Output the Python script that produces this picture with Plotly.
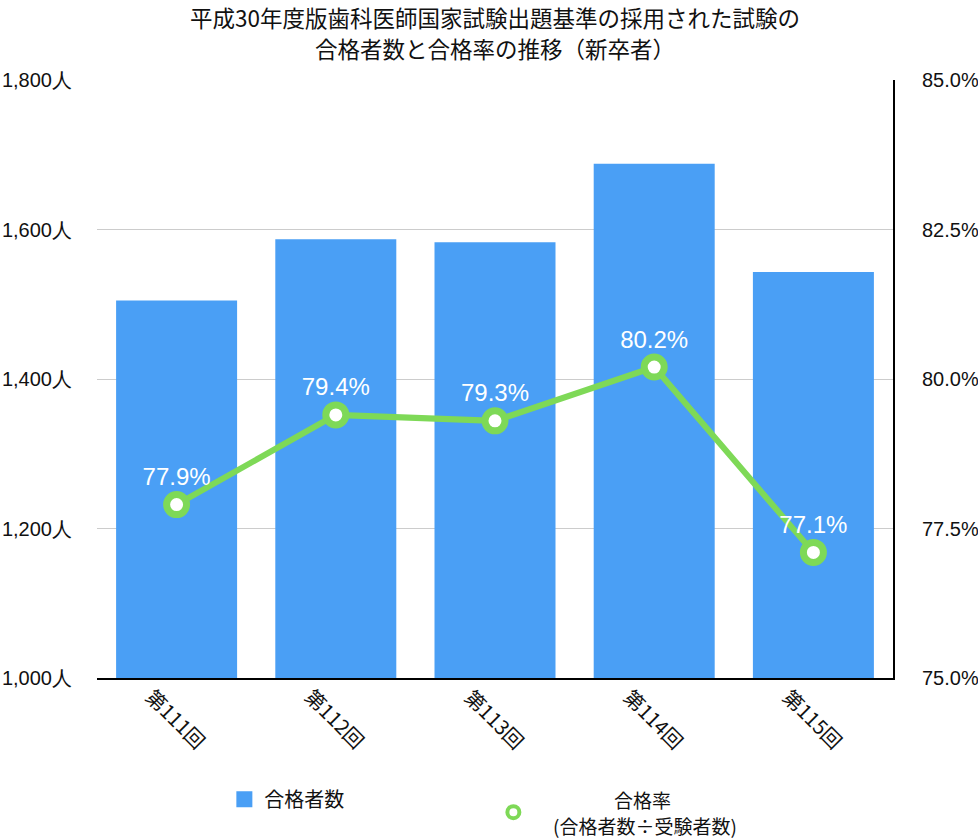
import plotly.graph_objects as go

categories = ["第111回", "第112回", "第113回", "第114回", "第115回"]
passers = [1505, 1587, 1583, 1688, 1543]
pass_rate = [77.9, 79.4, 79.3, 80.2, 77.1]
rate_labels = ["77.9%", "79.4%", "79.3%", "80.2%", "77.1%"]
title_lines = ["平成30年度版歯科医師国家試験出題基準の採用された試験の", "合格者数と合格率の推移（新卒者）"]
bar_name = "合格者数"
rate_name_lines = ["合格率", "(合格者数÷受験者数)"]

FONT = "Noto Sans CJK JP"
LATIN = "Helvetica, Liberation Sans, Arial"
BLUE = "#4A9FF5"
GREEN = "#7ED957"

fig = go.Figure()
fig.add_trace(go.Bar(
    x=categories, y=passers, name=bar_name,
    marker=dict(color=BLUE, line=dict(width=0)),
    yaxis="y", showlegend=False,
))
fig.add_trace(go.Scatter(
    x=categories, y=pass_rate, name=rate_name_lines[0],
    mode="lines+markers+text",
    line=dict(color=GREEN, width=6),
    marker=dict(size=20, color="white", line=dict(color=GREEN, width=7)),
    text=rate_labels, textposition="top center",
    textfont=dict(color="white", size=24, family=LATIN),
    yaxis="y2", showlegend=False, cliponaxis=False,
))
# legend-only entries
fig.add_trace(go.Scatter(
    x=[None], y=[None], name=bar_name, mode="markers",
    marker=dict(symbol="square", size=16, color=BLUE),
))
fig.add_trace(go.Scatter(
    x=[None], y=[None], name="\u2009<br>\u2009", mode="markers",
    marker=dict(symbol="circle", size=12, color="white", line=dict(color=GREEN, width=4)),
))

annotations = []
for i, line in enumerate(title_lines):
    annotations.append(dict(
        text=line, xref="paper", yref="paper", x=0.5, xanchor="center",
        y=1 + (80 - [17, 48][i]) / 598, yanchor="middle", showarrow=False,
        font=dict(size=22.5, family=FONT, color="#111"),
    ))
for c in categories:
    annotations.append(dict(
        text=c, xref="x", yref="paper", x=c, y=-40 / 598, xanchor="center", yanchor="middle",
        textangle=45, showarrow=False, font=dict(size=20, family=FONT, color="#111"),
    ))
# second legend entry text (centred two lines)
for txt, cx, cy in zip(rate_name_lines, [642, 645], [799, 825]):
    annotations.append(dict(
        text=txt, xref="paper", yref="paper", x=(cx - 97) / 796, y=-(cy - 678) / 598,
        xanchor="center", yanchor="middle", showarrow=False,
        font=dict(size=19, family=FONT, color="#111"),
    ))

fig.update_layout(
    width=978, height=840,
    margin=dict(l=97, r=85, t=80, b=162, autoexpand=False),
    paper_bgcolor="white", plot_bgcolor="white",
    font=dict(family=FONT, color="#111", size=20),
    annotations=annotations,
    bargap=0.24,
    xaxis=dict(
        showticklabels=False, showgrid=False, showline=True, linecolor="black", linewidth=2,
        ticks="", automargin=False,
    ),
    yaxis=dict(
        range=[1000, 1800], dtick=200, tickformat=",", ticksuffix="人",
        showgrid=True, gridcolor="#cccccc", gridwidth=1, zeroline=False,
        showline=False, ticks="outside", ticklen=20, tickcolor="rgba(0,0,0,0)",
        tickfont=dict(size=20, family=LATIN), automargin=False,
    ),
    yaxis2=dict(
        range=[75, 85], dtick=2.5, tickformat=".1f", ticksuffix="%",
        overlaying="y", side="right", showgrid=False, zeroline=False,
        showline=True, linecolor="black", linewidth=2,
        ticks="outside", ticklen=23, tickcolor="rgba(0,0,0,0)",
        tickfont=dict(size=20, family=LATIN), automargin=False,
    ),
    legend=dict(
        orientation="h", x=0.16, y=-0.17, xanchor="left", yanchor="top",
        font=dict(size=20, family=FONT, color="#111"), entrywidth=224, entrywidthmode="pixels",
        valign="middle", itemsizing="trace",
    ),
    showlegend=True,
)

fig.write_html("out.html")
